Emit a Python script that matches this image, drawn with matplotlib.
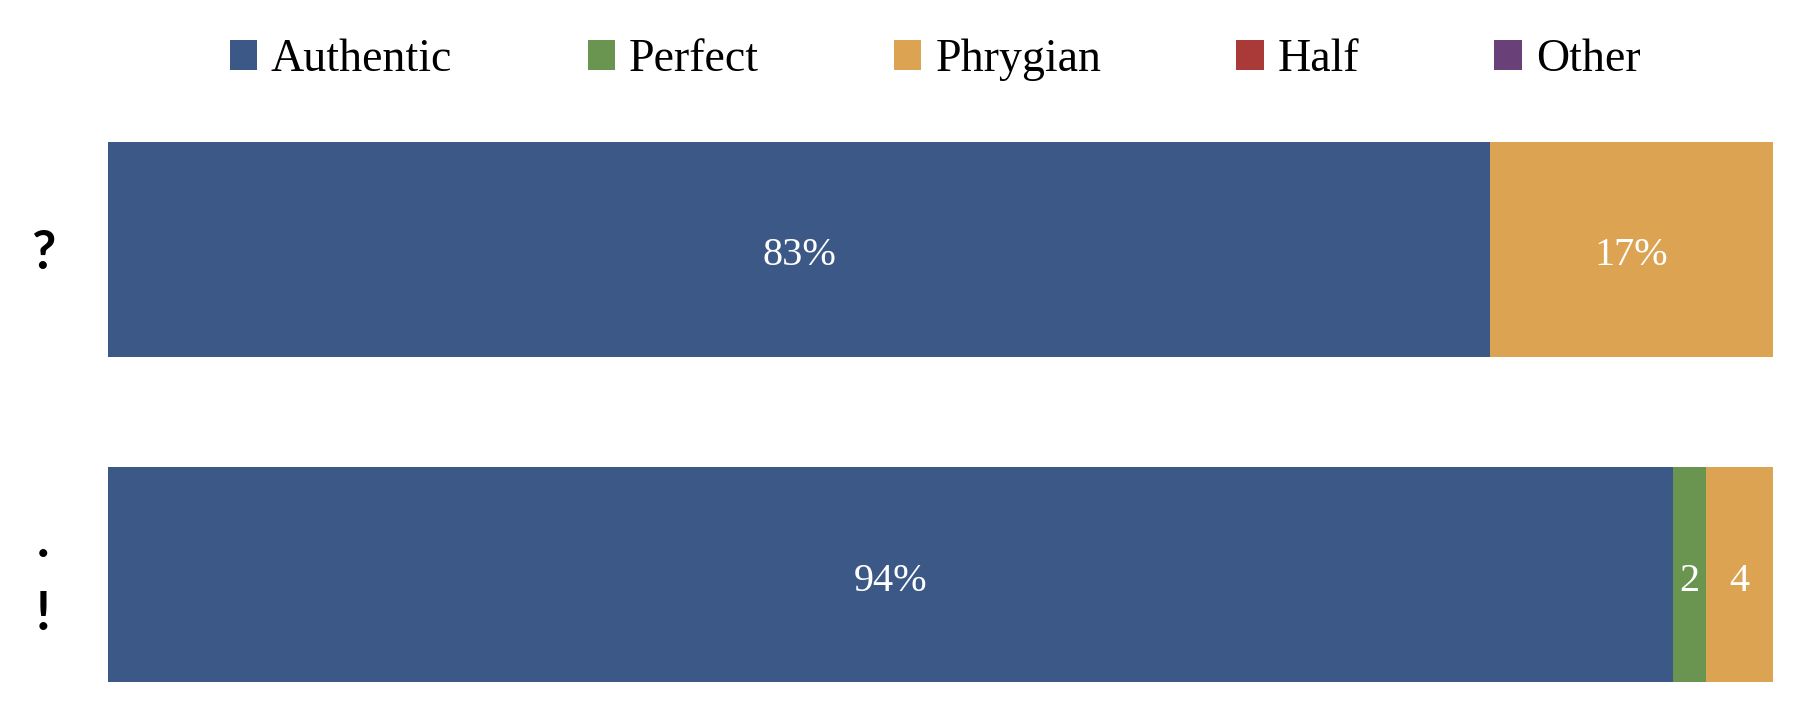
import matplotlib
matplotlib.use("Agg")
import matplotlib.pyplot as plt
from matplotlib.patches import Patch
from matplotlib import transforms

# Data
rows = ["?", ".\n!"]
categories = ["Authentic", "Perfect", "Phrygian", "Half", "Other"]
values = {
    "Authentic": [83, 94],
    "Perfect":   [0, 2],
    "Phrygian":  [17, 4],
    "Half":      [0, 0],
    "Other":     [0, 0],
}
colors = {
    "Authentic": "#3C5886",
    "Perfect":   "#6A9550",
    "Phrygian":  "#DBA352",
    "Half":      "#A93A38",
    "Other":     "#6A4079",
}

W, H = 1796, 710
fig = plt.figure(figsize=(W / 100, H / 100), dpi=100)
ax = fig.add_axes([108 / W, (H - 682) / H, (1773 - 108) / W, (682 - 142) / H])

serif = "Liberation Serif"
bar_h = 0.66
ypos = list(range(len(rows)))
left = [0] * len(rows)
for cat in categories:
    vals = values[cat]
    ax.barh(ypos, vals, left=left, height=bar_h, color=colors[cat], label=cat, linewidth=0)
    for i, v in enumerate(vals):
        if v > 0:
            lab = f"{v}%" if v >= 10 else f"{v}"
            ax.text(left[i] + v / 2, ypos[i] + 0.02, lab, ha="center", va="center",
                    color="white", fontsize=29, family=serif)
    left = [l + v for l, v in zip(left, vals)]

ax.set_xlim(0, 100)
ax.set_ylim(len(rows) - 1 + bar_h / 2, -bar_h / 2)
ax.set_xticks([])
ax.set_yticks(ypos)
ax.set_yticklabels(rows, fontsize=38, fontweight="bold", family="Lato",
                   ha="center", linespacing=1.6)
ax.tick_params(axis="y", length=0, pad=47)
for s in ax.spines.values():
    s.set_visible(False)
lbl = ax.get_yticklabels()[1]
lbl.set_transform(lbl.get_transform() + transforms.ScaledTranslation(0, 0.13, fig.dpi_scale_trans))

handles = [Patch(facecolor=colors[c], edgecolor="none", label=c) for c in categories]
fig.legend(handles=handles, loc="center", bbox_to_anchor=(935 / W, 1 - 60 / H),
           ncol=5, frameon=False, prop={"family": serif, "size": 33},
           handlelength=0.6, handleheight=0.65, handletextpad=0.3,
           columnspacing=2.95, borderaxespad=0)

fig.savefig("out.png", dpi=100)
